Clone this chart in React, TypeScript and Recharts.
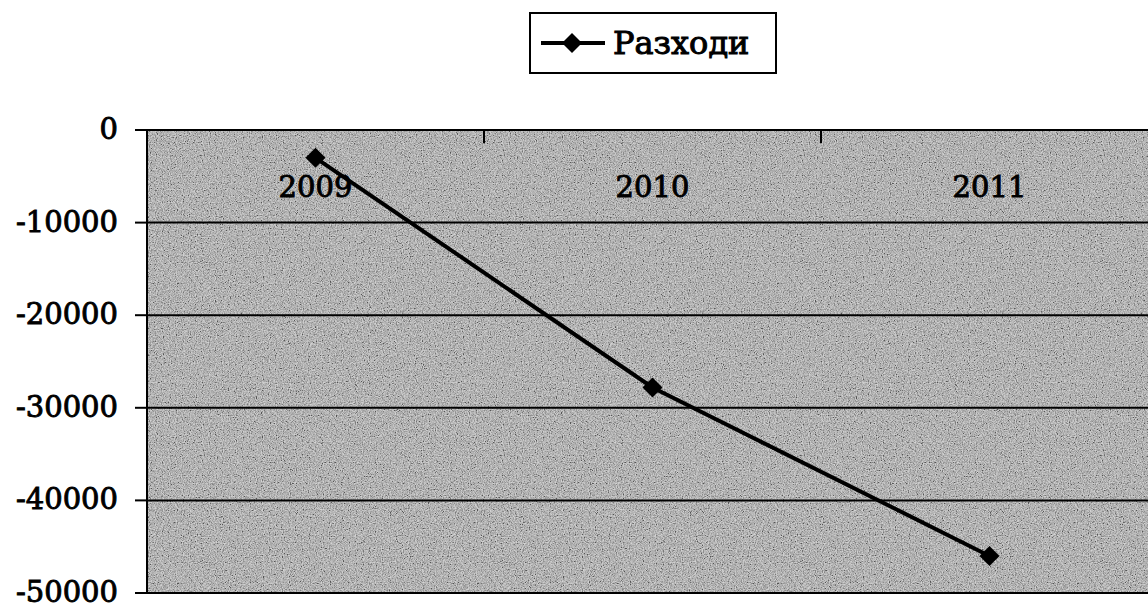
import { LineChart, Line, XAxis, YAxis, CartesianGrid } from "recharts";

const years = ["2009", "2010", "2011"];
const expenses = [-3000, -27800, -46000];
const yTicks = [0, -10000, -20000, -30000, -40000, -50000];

const data = years.map((year, i) => ({ year, value: expenses[i] }));

const font = "'DejaVu Serif', 'Liberation Serif', serif";
const chartW = 1160;
const left = 147;
const right = 2;
const band = (chartW - left - right) / years.length;

function Diamond(props: any) {
  const { cx, cy } = props;
  if (cx == null || cy == null) return null;
  const r = 10;
  return (
    <polygon
      points={`${cx},${cy - r} ${cx + r},${cy} ${cx},${cy + r} ${cx - r},${cy}`}
      fill="#000"
    />
  );
}

function YearTick(props: any) {
  const { x, y, payload, index } = props;
  return (
    <g>
      {index > 0 && (
        <line x1={x - band / 2} x2={x - band / 2} y1={y + 8} y2={y + 21} stroke="#000" strokeWidth={2} />
      )}
      <text
        x={x}
        y={y + 75}
        textAnchor="middle"
        fontFamily={font}
        fontSize={29}
        fill="#000"
        stroke="#000"
        strokeWidth={0.9}
      >
        {payload.value}
      </text>
    </g>
  );
}

function ValueTick(props: any) {
  const { x, y, payload } = props;
  return (
    <text
      x={x}
      y={y + 9}
      textAnchor="end"
      fontFamily={font}
      fontSize={29}
      fill="#000"
      stroke="#000"
      strokeWidth={0.9}
    >
      {payload.value}
    </text>
  );
}

// grey speckled plot background
function NoiseDefs() {
  return (
    <svg width={0} height={0} style={{ position: "absolute" }}>
      <defs>
        <filter id="speckle" x="0" y="0" width="100%" height="100%">
          <feTurbulence type="fractalNoise" baseFrequency="0.85" numOctaves={3} seed={4} />
          <feColorMatrix
            type="matrix"
            values="1.8 0 0 0 -0.4  1.8 0 0 0 -0.4  1.8 0 0 0 -0.4  0 0 0 0 1"
          />
        </filter>
        <pattern id="plotBg" patternUnits="userSpaceOnUse" width={300} height={300}>
          <rect width={300} height={300} fill="#a9a9a9" />
          <rect width={300} height={300} filter="url(#speckle)" opacity={0.5} />
        </pattern>
      </defs>
    </svg>
  );
}

function LegendBox() {
  return (
    <div
      style={{
        position: "absolute",
        left: 529,
        top: 12,
        width: 244,
        height: 58,
        border: "2px solid #000",
        background: "#fff",
        display: "flex",
        alignItems: "center",
      }}
    >
      <svg width={72} height={30} style={{ marginLeft: 8 }}>
        <line x1={2} x2={66} y1={15} y2={15} stroke="#000" strokeWidth={4} />
        <polygon points="33,5 43,15 33,25 23,15" fill="#000" />
      </svg>
      <span
        style={{
          fontFamily: font,
          fontSize: 32,
          marginLeft: 2,
          WebkitTextStroke: "1px #000",
        }}
      >
        Разходи
      </span>
    </div>
  );
}

export default function App() {
  return (
    <div
      style={{
        position: "absolute",
        left: 0,
        top: 0,
        width: 1148,
        height: 608,
        overflow: "hidden",
        background: "#fff",
      }}
    >
      <NoiseDefs />
      <LineChart
        width={chartW}
        height={608}
        data={data}
        margin={{ top: 100, right: right, bottom: 15, left: 0 }}
      >
        <CartesianGrid
          vertical={false}
          stroke="#000"
          strokeWidth={2}
          fill="url(#plotBg)"
          fillOpacity={1}
        />
        <XAxis
          dataKey="year"
          orientation="top"
          scale="band"
          height={30}
          axisLine={{ stroke: "#000", strokeWidth: 2 }}
          tickLine={false}
          tick={<YearTick />}
          interval={0}
        />
        <YAxis
          width={left}
          domain={[-50000, 0]}
          ticks={yTicks}
          interval={0}
          axisLine={{ stroke: "#000", strokeWidth: 2 }}
          tickLine={{ stroke: "#000", strokeWidth: 2 }}
          tickSize={12}
          tickMargin={17}
          tick={<ValueTick />}
        />
        <Line
          type="linear"
          dataKey="value"
          stroke="#000"
          strokeWidth={4}
          dot={<Diamond />}
          activeDot={false}
          isAnimationActive={false}
        />
      </LineChart>
      <LegendBox />
    </div>
  );
}
